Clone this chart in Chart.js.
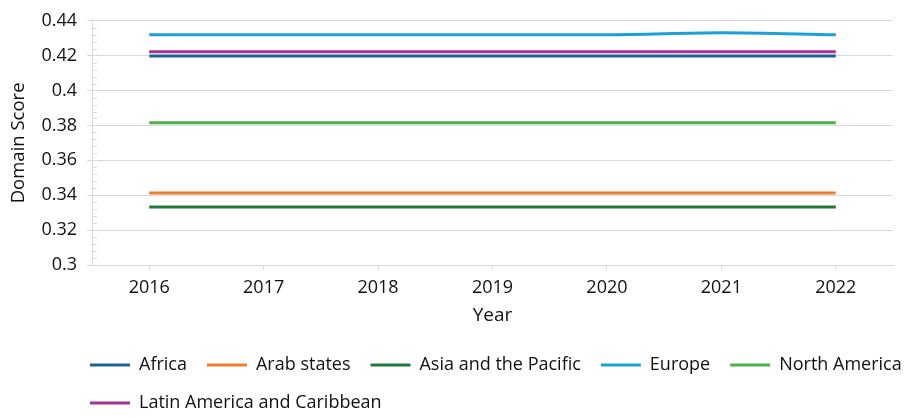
<!DOCTYPE html>
<html>
<head>
<meta charset="utf-8">
<script src="https://cdn.jsdelivr.net/npm/chart.js@4/dist/chart.umd.min.js"></script>
<style>
  html, body { margin: 0; padding: 0; background: #ffffff; }
  #wrap { width: 912px; height: 418px; }
</style>
</head>
<body>
<div id="wrap"><canvas id="c" width="912" height="418"></canvas></div>
<script>
const years = ['2016', '2017', '2018', '2019', '2020', '2021', '2022'];
const africa = [0.4198, 0.4198, 0.4198, 0.4198, 0.4198, 0.4198, 0.4198];
const arabStates = [0.3413, 0.3413, 0.3413, 0.3413, 0.3413, 0.3413, 0.3413];
const asiaPacific = [0.3333, 0.3333, 0.3333, 0.3333, 0.3333, 0.3333, 0.3333];
const europe = [0.432, 0.432, 0.432, 0.432, 0.432, 0.4331, 0.432];
const northAmerica = [0.3816, 0.3816, 0.3816, 0.3816, 0.3816, 0.3816, 0.3816];
const latinAmerica = [0.4223, 0.4223, 0.4223, 0.4223, 0.4223, 0.4223, 0.4223];
const yTickLabels = ['0.3', '0.32', '0.34', '0.36', '0.38', '0.4', '0.42', '0.44'];

const FONT = "'Open Sans', 'Noto Sans', sans-serif";
const GRID = '#d9d9d9';

function ds(label, data, color) {
  return {
    label, data,
    borderColor: color, backgroundColor: color,
    borderWidth: 3, pointRadius: 0, pointHoverRadius: 0,
    fill: false, cubicInterpolationMode: 'monotone'
  };
}

const minorTicks = {
  id: 'minorTicks',
  afterDraw(chart) {
    const y = chart.scales.y;
    const ctx = chart.ctx;
    const x0 = chart.chartArea.left;
    ctx.save();
    ctx.strokeStyle = GRID;
    ctx.lineWidth = 1;
    for (let i = 0; i < yTickLabels.length - 1; i++) {
      const a = parseFloat(yTickLabels[i]);
      const b = parseFloat(yTickLabels[i + 1]);
      for (let k = 1; k < 5; k++) {
        const py = Math.round(y.getPixelForValue(a + (b - a) * k / 5)) + 0.5;
        ctx.beginPath();
        ctx.moveTo(x0, py);
        ctx.lineTo(x0 + 5, py);
        ctx.stroke();
      }
    }
    ctx.restore();
  }
};

const legendShift = {
  id: 'legendShift',
  afterLayout(chart) {
    const l = chart.legend;
    l.left = 70;
    l.right = 982;
    l.top += 4;
    l.bottom += 4;
  }
};

new Chart(document.getElementById('c'), {
  type: 'line',
  data: {
    labels: years,
    datasets: [
      ds('Africa', africa, '#1f6391'),
      ds('Arab states', arabStates, '#ed7d31'),
      ds('Asia and the Pacific', asiaPacific, '#1e7b3a'),
      ds('Europe', europe, '#1ba1d9'),
      ds('North America', northAmerica, '#4caf4c'),
      ds('Latin America and Caribbean', latinAmerica, '#a3338f')
    ]
  },
  options: {
    responsive: false,
    animation: false,
    events: [],
    layout: { padding: { top: 19, right: 19, bottom: 0, left: 0 } },
    plugins: {
      tooltip: { enabled: false },
      legend: {
        position: 'bottom',
        align: 'start',
        labels: {
          color: '#111111',
          font: { family: FONT, size: 18 },
          boxWidth: 40,
          boxHeight: 3,
          padding: 20,
          generateLabels(chart) {
            const items = Chart.defaults.plugins.legend.labels.generateLabels(chart);
            return items.map(it => Object.assign(it, { lineWidth: 0, fillStyle: it.strokeStyle }));
          }
        }
      }
    },
    scales: {
      x: {
        offset: true,
        grid: { drawOnChartArea: false, drawTicks: true, tickLength: 5, color: GRID, offset: false },
        border: { color: GRID, width: 1 },
        ticks: { color: '#111111', font: { family: FONT, size: 18 }, padding: 7, maxRotation: 0 },
        title: { display: true, text: 'Year', color: '#111111', font: { family: FONT, size: 19 }, padding: { top: 0, bottom: 5 } },
        afterFit(scale) { scale.height = 67; }
      },
      y: {
        min: 0.3, max: 0.44,
        afterBuildTicks(scale) { scale.ticks = yTickLabels.map(v => ({ value: parseFloat(v) })); },
        grid: { color: GRID, tickLength: 5, drawTicks: true },
        border: { color: GRID, width: 1 },
        ticks: {
          color: '#111111', font: { family: FONT, size: 18 }, padding: 10,
          callback(value) { const i = yTickLabels.findIndex(t => Math.abs(parseFloat(t) - value) < 1e-9); return i >= 0 ? yTickLabels[i] : ''; }
        },
        title: { display: true, text: 'Domain Score', color: '#111111', font: { family: FONT, size: 18.5 }, padding: { top: 8, bottom: 0 } },
        afterFit(scale) { scale.width = 92; }
      }
    }
  },
  plugins: [minorTicks, legendShift]
});
</script>
</body>
</html>
